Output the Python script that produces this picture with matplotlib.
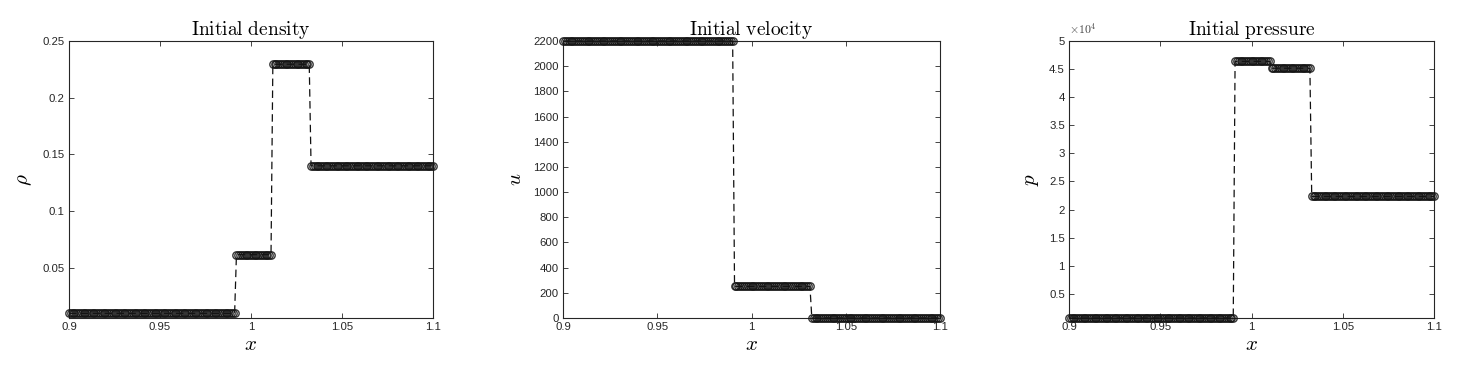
import numpy as np
import matplotlib
matplotlib.use("Agg")
import matplotlib.pyplot as plt
from matplotlib.ticker import FuncFormatter

plt.rcParams["font.family"] = ["Liberation Sans", "DejaVu Sans"]
plt.rcParams["mathtext.fontset"] = "cm"

# ── data: piecewise-constant initial states on a uniform mesh ──
n_cells = 201
x_min, x_max = 0.9, 1.1

# density
rho_breaks = [0.9912, 1.0113, 1.0323]
rho_states = [0.01, 0.0617, 0.2295, 0.14]
# velocity
u_breaks = [0.9910, 1.0318]
u_states = [2200.0, 251.0, 0.0]
# pressure
p_breaks = [0.9910, 1.0105, 1.0320]
p_states = [700.0, 46370.0, 45150.0, 22330.0]

x = np.linspace(x_min, x_max, n_cells)


def states_on_mesh(breaks, states):
    return np.asarray(states)[np.searchsorted(breaks, x)]


panels = [
    ("Initial density", r"$\rho$", states_on_mesh(rho_breaks, rho_states),
     (0.0059, 0.25), [0.05, 0.1, 0.15, 0.2, 0.25], 1.0),
    ("Initial velocity", r"$u$", states_on_mesh(u_breaks, u_states),
     (0, 2200), list(range(0, 2201, 200)), 1.0),
    ("Initial pressure", r"$p$", states_on_mesh(p_breaks, p_states),
     (700, 50000), [5000 * k for k in range(1, 11)], 1e4),
]

fig = plt.figure(figsize=(14.59, 3.75), dpi=100)
lefts = [69, 563, 1069]
widths = [364, 377, 365]
W, H = 1459, 375
edge = "#262626"

for (title, ylab, y, ylim, yt, scale), l, w in zip(panels, lefts, widths):
    ax = fig.add_axes([l / W, (H - 318) / H, w / W, (318 - 41) / H])
    ax.plot(x, y, "--", color="#111111", lw=0.9, dashes=(6, 3.5),
            marker="o", ms=5.3, mfc="none", mec=(0.08, 0.08, 0.08, 0.85),
            mew=1.0, clip_on=False, zorder=3)
    ax.set_xlim(x_min, x_max)
    ax.set_ylim(*ylim)
    ax.set_xticks([0.9, 0.95, 1.0, 1.05, 1.1])
    ax.xaxis.set_major_formatter(FuncFormatter(lambda v, _: f"{v:g}"))
    ax.set_yticks(yt)
    ax.yaxis.set_major_formatter(
        FuncFormatter(lambda v, _, s=scale: f"{v / s:g}"))
    if scale != 1.0:
        ax.text(0.0, 1.012, r"$\times\mathsf{10^{4}}$", transform=ax.transAxes,
                fontsize=8.5, color="#444444", ha="left", va="bottom")
    ax.tick_params(direction="in", top=True, right=True, length=3.5,
                   width=0.6, labelsize=8.2, colors=edge, pad=3)
    for s in ax.spines.values():
        s.set_linewidth(0.8)
        s.set_color(edge)
    ax.set_title(r"$\mathrm{" + title.replace(" ", r"\ ") + "}$",
                 fontsize=14, pad=4)
    ax.set_xlabel(r"$x$", fontsize=15, labelpad=2)
    ax.set_ylabel(ylab, fontsize=15, labelpad=6)

fig.savefig("out.png", dpi=100)
